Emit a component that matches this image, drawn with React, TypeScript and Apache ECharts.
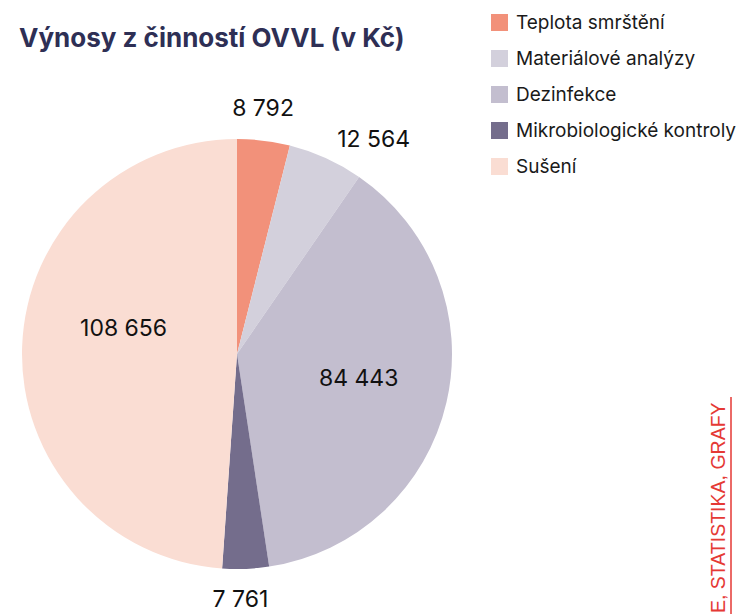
import React, { useEffect, useRef } from "react";
import * as echarts from "echarts";

const categories = [
  "Teplota smrštění",
  "Materiálové analýzy",
  "Dezinfekce",
  "Mikrobiologické kontroly",
  "Sušení",
];
const values = [8792, 12564, 84443, 7761, 108656];
const colors = ["#F2917A", "#D3D0DC", "#C3BECF", "#746D8C", "#FADDD3"];
const outsideLabel = [true, true, false, true, false];
const labelOffsets: [number, number][] = [
  [-39, -13],
  [-2, -1],
  [14, -1],
  [-39, 10],
  [-3, -22],
];

const fmt = (v: number) => String(v).replace(/\B(?=(\d{3})+(?!\d))/g, " ");

export default function App() {
  const ref = useRef<HTMLDivElement>(null);
  useEffect(() => {
    if (!ref.current) return;
    const chart = echarts.init(ref.current, undefined, { renderer: "svg" });
    chart.setOption({
      animation: false,
      title: {
        text: "Výnosy z činností OVVL (v Kč)",
        left: 14,
        top: 19,
        textStyle: {
          fontFamily: "Inter",
          fontWeight: 700,
          fontSize: 26,
          color: "#2E2F55",
        },
      },
      legend: {
        orient: "vertical",
        left: 486,
        top: 8,
        itemWidth: 17,
        itemHeight: 17,
        itemGap: 17,
        icon: "rect",
        data: categories,
        textStyle: {
          fontFamily: "Inter",
          fontSize: 19,
          lineHeight: 17,
          color: "#1a1a1a",
          padding: [0, 0, 0, 3],
        },
      },
      series: [
        {
          type: "pie",
          center: [237, 354],
          radius: [0, 215],
          startAngle: 90,
          clockwise: true,
          avoidLabelOverlap: false,
          labelLine: { show: false, length: 20, length2: 0 },
          itemStyle: { borderWidth: 0 },
          emphasis: { disabled: true },
          data: categories.map((name, i) => ({
            name,
            value: values[i],
            itemStyle: { color: colors[i] },
            label: {
              position: outsideLabel[i] ? "outside" : "inside",
              offset: labelOffsets[i],
            },
          })),
          label: {
            show: true,
            formatter: (p: any) => fmt(p.value),
            fontFamily: "Inter",
            fontSize: 23,
            lineHeight: 20,
            color: "#111111",
          },
        },
      ],
      graphic: [
        {
          type: "text",
          x: 728,
          y: 613,
          rotation: Math.PI / 2,
          style: {
            text: "E, STATISTIKA, GRAFY",
            fill: "#E53935",
            font: "19.5px 'Liberation Sans'",
            textAlign: "left",
            textVerticalAlign: "bottom",
          },
        },
        {
          type: "line",
          shape: { x1: 731, y1: 397, x2: 731, y2: 614 },
          style: { stroke: "#E53935", lineWidth: 1.5 },
        },
      ],
    });
    return () => chart.dispose();
  }, []);
  return <div ref={ref} style={{ width: 740, height: 614, position: "absolute", left: 0, top: 0 }} />;
}
